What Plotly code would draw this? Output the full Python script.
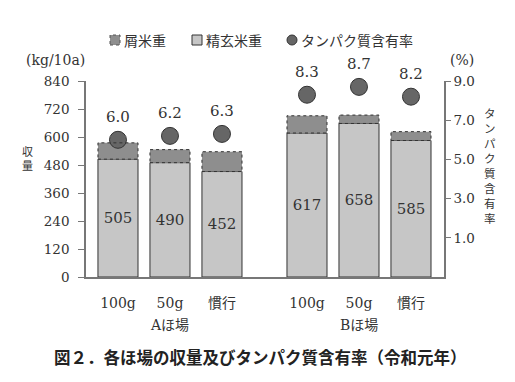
import plotly.graph_objects as go

# ---- data ----
fields = ["Aほ場", "Bほ場"]
treatments = ["100g", "50g", "慣行"]
brown_rice = [505, 490, 452, 617, 658, 585]      # 精玄米重 kg/10a
waste_rice = [70, 56, 85, 74, 36, 38]            # 屑米重 kg/10a
protein = [6.0, 6.2, 6.3, 8.3, 8.7, 8.2]         # タンパク質含有率 %
y_ticks = [0, 120, 240, 360, 480, 600, 720, 840]
y2_ticks = [1.0, 3.0, 5.0, 7.0, 9.0]

# ---- layout constants ----
W, H = 515, 382
L, R, T, B = 86, 71, 81, 105
PW, PH = W - L - R, H - T - B
GROUP_GAP = 1.635
BAR_W = 0.77
TXT = "#333333"
SERIF = "DejaVu Serif, Liberation Serif, Noto Sans CJK JP, serif"
SANS = "Noto Sans CJK JP"

xs = []
for gi, _ in enumerate(fields):
    for ti, _ in enumerate(treatments):
        xs.append(gi * (len(treatments) - 1 + GROUP_GAP) + ti)
labels = treatments * len(fields)


def px(xp):
    return (xp - L) / PW


def py(yp):
    return 1 - (yp - T) / PH


def note(x, y, text, family, size, xanchor="center", color=TXT):
    return dict(x=px(x), y=py(y), xref="paper", yref="paper", text=text,
                showarrow=False, xanchor=xanchor, yanchor="middle",
                font=dict(family=family, size=size, color=color))


fig = go.Figure()
fig.add_trace(go.Bar(
    x=xs, y=brown_rice, width=BAR_W, name="精玄米重",
    marker=dict(color="#c6c6c6", line=dict(color="#333333", width=1)),
    text=[str(v) for v in brown_rice], textposition="inside",
    insidetextanchor="middle",
    textfont=dict(family=SERIF, size=15, color=TXT),
    showlegend=False, cliponaxis=False))
fig.add_trace(go.Bar(
    x=xs, y=waste_rice, base=brown_rice, width=BAR_W, name="屑米重",
    marker=dict(color="#8e8e8e", line=dict(width=0)),
    showlegend=False))
fig.add_trace(go.Scatter(
    x=xs, y=protein, yaxis="y2", mode="markers", name="タンパク質含有率",
    marker=dict(size=17, color="#666666", line=dict(color="#333333", width=1)),
    showlegend=False, cliponaxis=False))

shapes = []
for x, b, w in zip(xs, brown_rice, waste_rice):
    shapes.append(dict(type="rect", xref="x", yref="y",
                       x0=x - BAR_W / 2, x1=x + BAR_W / 2, y0=b, y1=b + w,
                       line=dict(color="#333333", width=1, dash="dot")))

annotations = []
for x, p in zip(xs, protein):
    annotations.append(dict(x=x, y=p, xref="x", yref="y2", text=f"{p:.1f}",
                            showarrow=False, yshift=23,
                            xanchor="center", yanchor="middle",
                            font=dict(family=SERIF, size=15, color=TXT)))

# group labels
for gi, f in enumerate(fields):
    gx = xs[gi * len(treatments): (gi + 1) * len(treatments)]
    annotations.append(dict(x=sum(gx) / len(gx), y=py(325), xref="x", yref="paper",
                            text=f, showarrow=False,
                            xanchor="center", yanchor="middle",
                            font=dict(family=SERIF, size=14, color=TXT)))

# axis unit labels and vertical titles
annotations.append(note(55, 60, "(kg/10a)", SERIF, 14))
annotations.append(note(462, 60, "(%)", SERIF, 14))
annotations.append(note(27, 158, "<br>".join("収量"), SANS, 11))
annotations.append(note(490, 165, "<br>".join("タンパク質含有率"), SANS, 11.5))

# caption
annotations.append(note(260, 357, "<b>図２．各ほ場の収量及びタンパク質含有率（令和元年）</b>",
                        SANS, 16.5, color="#222222"))

# manual legend
leg_y = py(40)
half = 5 / PH
shapes.append(dict(type="rect", xref="paper", yref="paper",
                   x0=px(110), x1=px(120), y0=leg_y - half, y1=leg_y + half,
                   fillcolor="#8e8e8e", line=dict(color="#555555", width=1, dash="dot")))
shapes.append(dict(type="rect", xref="paper", yref="paper",
                   x0=px(192), x1=px(202), y0=leg_y - half, y1=leg_y + half,
                   fillcolor="#c6c6c6", line=dict(color="#333333", width=1)))
shapes.append(dict(type="circle", xref="paper", yref="paper",
                   x0=px(287), x1=px(297), y0=leg_y - half, y1=leg_y + half,
                   fillcolor="#666666", line=dict(color="#333333", width=1)))
for xl, t in [(122, "屑米重"), (204, "精玄米重"), (299, "タンパク質含有率")]:
    annotations.append(note(xl, 40, t, SANS, 14, xanchor="left"))

fig.update_layout(
    width=W, height=H,
    margin=dict(l=L, r=R, t=T, b=B, pad=0),
    paper_bgcolor="white", plot_bgcolor="white",
    barmode="overlay", showlegend=False,
    xaxis=dict(range=[-0.615, 6.27], tickvals=xs, ticktext=labels,
               showline=True, linecolor="#777777", linewidth=1.5,
               ticks="", showgrid=False, zeroline=False,
               ticklabelstandoff=12,
               tickfont=dict(family=SERIF, size=14, color=TXT)),
    yaxis=dict(range=[0, 840], tickvals=y_ticks, showline=True,
               linecolor="#777777", linewidth=1.5, ticks="outside", ticklen=6,
               tickcolor="#777777", showgrid=False, zeroline=False,
               ticklabelstandoff=6,
               tickfont=dict(family=SERIF, size=13.5, color=TXT)),
    yaxis2=dict(range=[-1, 9], tickvals=y2_ticks,
                ticktext=[f"{v:.1f}" for v in y2_ticks],
                overlaying="y", side="right", showline=True,
                linecolor="#777777", linewidth=1.5, ticks="outside", ticklen=5,
                tickcolor="#777777", showgrid=False, zeroline=False,
                tickfont=dict(family=SERIF, size=13.5, color=TXT)),
    shapes=shapes, annotations=annotations,
)

fig.write_html("out.html", config={"displayModeBar": False},
               post_script="document.body.style.margin='0';document.body.style.overflow='hidden';")
